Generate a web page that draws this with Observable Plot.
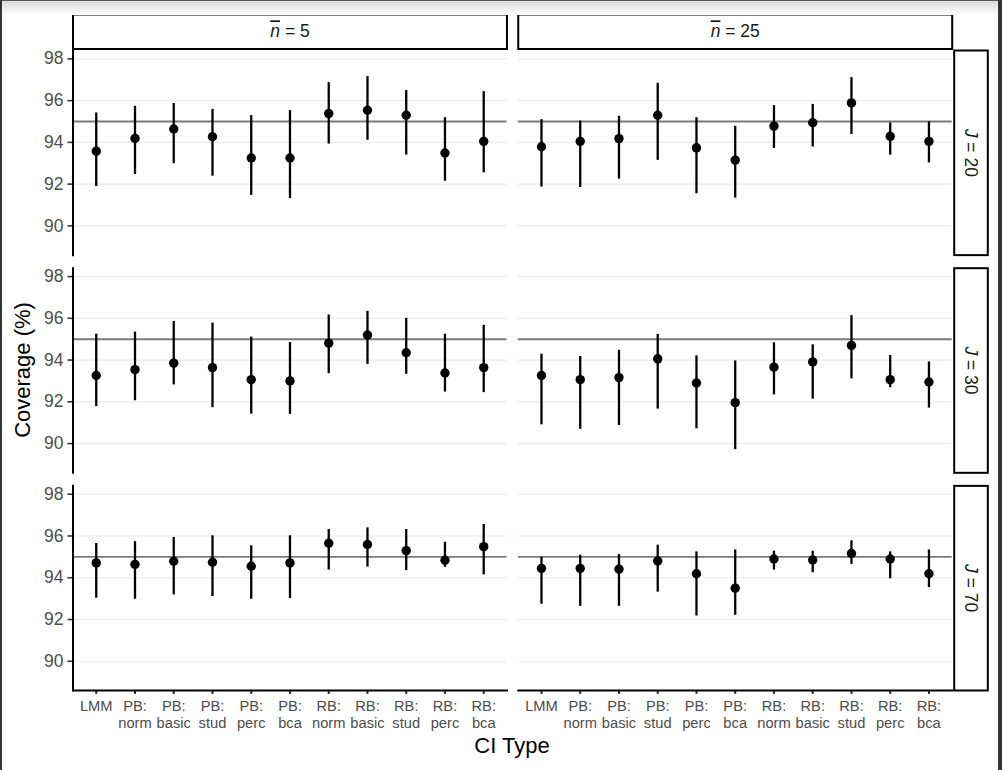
<!DOCTYPE html>
<html>
<head>
<meta charset="utf-8">
<script src="https://cdn.jsdelivr.net/npm/d3@7"></script>
<script src="https://cdn.jsdelivr.net/npm/@observablehq/plot@0.6"></script>
<style>
  html, body { margin: 0; padding: 0; background: #fff; }
  #wrap { position: relative; width: 1002px; height: 770px; overflow: hidden; }
  .edge { position: absolute; pointer-events: none; }
</style>
</head>
<body>
<div id="wrap">
  <div id="chart"></div>
  <div class="edge" style="left:0;top:0;width:1002px;height:14px;background:linear-gradient(#dcdcdc,#ffffff);border-top:1px solid #555;"></div>
  <div class="edge" style="left:0;top:0;width:2px;height:770px;background:#333;"></div>
  <div class="edge" style="left:998px;top:0;width:4px;height:770px;background:#333;"></div>
</div>
<script>
// ---- data ----
const ciTypes = ["LMM", "PB: norm", "PB: basic", "PB: stud", "PB: perc", "PB: bca",
                 "RB: norm", "RB: basic", "RB: stud", "RB: perc", "RB: bca"];
const nbarValues = [5, 25];
const jValues = [20, 30, 70];
const yTicks = [90, 92, 94, 96, 98];
const nominal = [95];

const est_n5_J20 = [93.58, 94.19, 94.64, 94.27, 93.25, 93.25, 95.38, 95.54, 95.30, 93.49, 94.05];
const lo_n5_J20  = [91.89, 92.46, 92.98, 92.38, 91.46, 91.31, 93.92, 94.10, 93.39, 92.14, 92.54];
const hi_n5_J20  = [95.41, 95.73, 95.86, 95.58, 95.28, 95.52, 96.86, 97.15, 96.48, 95.18, 96.43];

const est_n25_J20 = [93.79, 94.05, 94.18, 95.30, 93.74, 93.15, 94.78, 94.94, 95.89, 94.29, 94.05];
const lo_n25_J20  = [91.86, 91.84, 92.24, 93.14, 91.54, 91.33, 93.71, 93.78, 94.38, 93.39, 93.02];
const hi_n25_J20  = [95.09, 95.02, 95.25, 96.83, 95.18, 94.77, 95.76, 95.82, 97.10, 94.93, 94.98];

const est_n5_J30 = [93.26, 93.54, 93.85, 93.64, 93.06, 93.00, 94.81, 95.20, 94.35, 93.38, 93.64];
const lo_n5_J30  = [91.77, 92.05, 92.81, 91.72, 91.41, 91.40, 93.35, 93.79, 93.32, 92.47, 92.44];
const hi_n5_J30  = [95.24, 95.34, 95.85, 95.77, 95.10, 94.84, 96.16, 96.33, 96.00, 95.24, 95.66];

const est_n25_J30 = [93.26, 93.06, 93.16, 94.06, 92.90, 91.96, 93.66, 93.91, 94.70, 93.06, 92.95];
const lo_n25_J30  = [90.90, 90.68, 90.87, 91.65, 90.71, 89.71, 92.33, 92.13, 93.10, 92.68, 91.70];
const hi_n25_J30  = [94.28, 94.17, 94.47, 95.23, 94.20, 93.96, 94.83, 94.73, 96.13, 94.22, 93.91];

const est_n5_J70 = [94.71, 94.64, 94.79, 94.74, 94.55, 94.71, 95.65, 95.59, 95.30, 94.84, 95.49];
const lo_n5_J70  = [93.02, 92.97, 93.18, 93.10, 92.97, 93.00, 94.37, 94.51, 94.34, 94.50, 94.14];
const hi_n5_J70  = [95.64, 95.73, 95.93, 96.01, 95.53, 96.01, 96.31, 96.39, 96.31, 95.70, 96.55];

const est_n25_J70 = [94.45, 94.45, 94.41, 94.80, 94.19, 93.50, 94.90, 94.85, 95.16, 94.90, 94.19];
const lo_n25_J70  = [92.73, 92.63, 92.63, 93.31, 92.17, 92.20, 94.37, 94.24, 94.64, 93.95, 93.53];
const hi_n25_J70  = [94.98, 95.08, 95.11, 95.56, 95.24, 95.33, 95.27, 95.27, 95.77, 95.24, 95.33];

const panels = [
  [5, 20, est_n5_J20, lo_n5_J20, hi_n5_J20],
  [25, 20, est_n25_J20, lo_n25_J20, hi_n25_J20],
  [5, 30, est_n5_J30, lo_n5_J30, hi_n5_J30],
  [25, 30, est_n25_J30, lo_n25_J30, hi_n25_J30],
  [5, 70, est_n5_J70, lo_n5_J70, hi_n5_J70],
  [25, 70, est_n25_J70, lo_n25_J70, hi_n25_J70]
];
const rows = panels.flatMap(([n, J, est, lo, hi]) =>
  ciTypes.map((type, i) => ({n, J, type, est: est[i], lo: lo[i], hi: hi[i]})));

// ---- layout ----
const W = 1002, H = 770;
const mL = 72.5, mR = 50.3, mT = 50, mB = 80;
const padFx = 0.0253, padFy = 0.06;
const bwx = (W - mL - mR) / (2 - padFx) * (1 - padFx);
const bwy = (H - mT - mB) / (3 - padFy) * (1 - padFy);

const font = "'Liberation Sans', Arial, Helvetica, sans-serif";

const chart = Plot.plot({
  width: W, height: H,
  marginLeft: mL, marginRight: mR, marginTop: mT, marginBottom: mB,
  style: {fontFamily: font, background: "white", overflow: "visible"},
  fx: {domain: nbarValues, paddingInner: padFx, paddingOuter: 0, round: false, axis: null},
  fy: {domain: jValues, paddingInner: padFy, paddingOuter: 0, round: false, axis: null},
  x: {type: "point", domain: ciTypes, padding: 0.6, round: false, axis: null},
  y: {domain: [88.6, 98.4], axis: null},
  marks: [
    Plot.gridY(yTicks, {stroke: "#ebebeb", strokeOpacity: 1, strokeWidth: 1.2}),
    Plot.ruleY(nominal, {stroke: "#7a7a7a", strokeWidth: 1.9}),
    Plot.ruleX(rows, {x: "type", y1: "lo", y2: "hi", fx: "n", fy: "J", stroke: "black", strokeWidth: 2.3}),
    Plot.dot(rows, {x: "type", y: "est", fx: "n", fy: "J", r: 4.7, fill: "black", stroke: null}),
    Plot.axisY({ticks: yTicks, tickSize: 5, tickPadding: 4.5, fontSize: 17.5, fill: "#4d4d4d",
                stroke: "#333", strokeWidth: 1.6, label: null}),
    Plot.axisX({tickSize: 4, tickPadding: 5, fontSize: 14.7, fill: "#4d4d4d", stroke: "#333",
                strokeWidth: 2, label: null, lineHeight: 1.12,
                tickFormat: d => d.replace(": ", ":\n")}),
    Plot.frame({anchor: "left", facetAnchor: "left", stroke: "black", strokeWidth: 2}),
    Plot.frame({anchor: "bottom", facetAnchor: "bottom", stroke: "black", strokeWidth: 2}),
    // top strips
    Plot.frame({facetAnchor: "top", insetTop: -36, insetBottom: bwy + 1.5,
                fill: "white", stroke: "black", strokeWidth: 2}),
    Plot.text(nbarValues, {fx: d => d, text: d => `n = ${d}`, frameAnchor: "top", dy: -18.8,
                lineAnchor: "middle", textAnchor: "middle", facetAnchor: "top",
                fontSize: 17.5, fill: "#1a1a1a"}),
    // right strips
    Plot.frame({facetAnchor: "right", insetLeft: bwx + 2, insetRight: -35.6,
                fill: "white", stroke: "black", strokeWidth: 2}),
    Plot.text(jValues, {fy: d => d, text: d => `J = ${d}`, frameAnchor: "right", dx: 18.8,
                rotate: 90, lineAnchor: "middle", textAnchor: "middle", facetAnchor: "right",
                fontSize: 17.5, fill: "#1a1a1a"})
  ]
});

document.getElementById("chart").appendChild(chart);

// italic symbols in strip labels
const svg = d3.select(chart);
svg.selectAll("text")
  .filter(function () { return /^[nJ] = \d+$/.test(this.textContent); })
  .each(function () {
    const t = this.textContent;
    const sym = t[0];
    const rest = t.slice(1);
    const sel = d3.select(this);
    sel.text(null);
    const sp = sel.append("tspan").attr("font-style", "italic").text(sym);
    if (sym === "n") sp.style("text-decoration", "overline");
    sel.append("tspan").text(rest);
  });

// axis titles
svg.append("text")
  .attr("x", 512).attr("y", 753)
  .attr("text-anchor", "middle")
  .attr("font-size", 22).attr("fill", "black")
  .style("font-family", font)
  .text("CI Type");
svg.append("text")
  .attr("transform", "translate(29.5,370) rotate(-90)")
  .attr("text-anchor", "middle")
  .attr("font-size", 22).attr("fill", "black")
  .style("font-family", font)
  .text("Coverage (%)");
</script>
</body>
</html>
